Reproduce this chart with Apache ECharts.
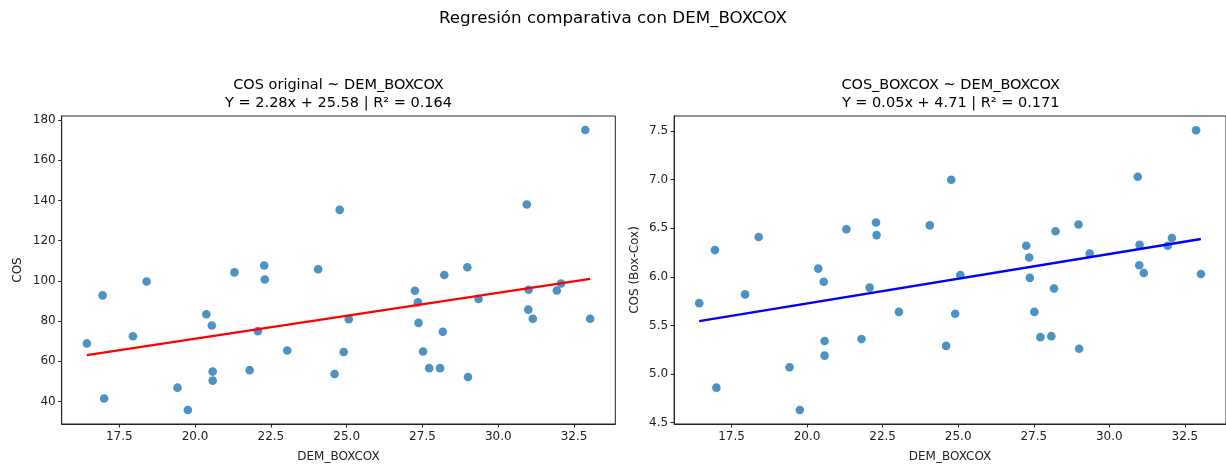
<!DOCTYPE html>
<html>
<head>
<meta charset="utf-8">
<script src="https://cdn.jsdelivr.net/npm/echarts@6/dist/echarts.min.js"></script>
<style>
html,body{margin:0;padding:0;background:#fff;}
#chart{width:1226px;height:468px;}
</style>
</head>
<body>
<div id="chart"></div>
<script>
// ---- data ----
const demBoxcox = [16.43, 16.95, 17.00, 17.95, 18.40, 19.42, 19.76, 20.37, 20.55, 20.58, 20.58,
  21.30, 21.80, 22.07, 22.28, 22.30, 23.04, 24.06, 24.60, 24.77, 24.90, 25.07, 27.25, 27.35,
  27.37, 27.52, 27.72, 28.08, 28.17, 28.22, 28.98, 29.00, 29.35, 30.94, 31.00, 30.99, 31.14,
  31.93, 32.07, 32.87, 33.03];
const cosOriginal = [68.9, 92.8, 41.5, 72.5, 99.7, 46.9, 35.8, 83.4, 77.8, 54.9, 50.4,
  104.2, 55.6, 75.0, 107.6, 100.7, 65.4, 105.8, 53.7, 135.3, 64.6, 80.9, 95.1, 89.3,
  79.1, 64.9, 56.6, 56.6, 74.7, 102.9, 106.8, 52.2, 91.0, 138.0, 95.6, 85.7, 81.2,
  95.2, 98.7, 175.0, 81.2];
const cosBoxcox = [5.73, 6.276, 4.86, 5.82, 6.41, 5.07, 4.63, 6.085, 5.95, 5.34, 5.19,
  6.49, 5.36, 5.89, 6.56, 6.43, 5.64, 6.53, 5.29, 7.00, 5.62, 6.02, 6.32, 6.20,
  5.99, 5.64, 5.38, 5.39, 5.88, 6.47, 6.54, 5.26, 6.24, 7.03, 6.33, 6.12, 6.04,
  6.32, 6.40, 7.51, 6.03];
// regression line endpoints (x at data min / max)
const lineX = [16.43, 33.03];
const lineCos = [63.05, 101.0];
const lineBox = [5.545, 6.39];
// tick labels
const xTicks = [17.5, 20.0, 22.5, 25.0, 27.5, 30.0, 32.5];
const yTicksCos = [40, 60, 80, 100, 120, 140, 160, 180];
const yTicksBox = [4.5, 5.0, 5.5, 6.0, 6.5, 7.0, 7.5];
// texts
const supTitle = 'Regresión comparativa con DEM_BOXCOX';
const titleLeft = ['COS original ~ DEM_BOXCOX', 'Y = 2.28x + 25.58 | R² = 0.164'];
const titleRight = ['COS_BOXCOX ~ DEM_BOXCOX', 'Y = 0.05x + 4.71 | R² = 0.171'];
const xName = 'DEM_BOXCOX';
const yNameLeft = 'COS';
const yNameRight = 'COS (Box-Cox)';

const FONT = 'DejaVu Sans';
const INK = '#222';

const pts = (xs, ys) => xs.map((x, i) => [x, ys[i]]);

function xAxisFor(gi) {
  return {
    type: 'value', gridIndex: gi, min: 15.6, max: 33.86,
    name: xName, nameLocation: 'middle', nameGap: 27,
    nameTextStyle: {fontFamily: FONT, fontSize: 12, color: INK},
    axisLine: {show: true, lineStyle: {color: INK, width: 1}},
    axisTick: {show: true, inside: false, length: 3.5, lineStyle: {color: INK, width: 1}, customValues: xTicks},
    axisLabel: {show: true, margin: 7, fontFamily: FONT, fontSize: 12, color: INK,
      customValues: xTicks, formatter: v => Number(v).toFixed(1)},
    splitLine: {show: false}
  };
}
function yAxisFor(gi, min, max, ticks, fmt, name, gap) {
  return {
    type: 'value', gridIndex: gi, min: min, max: max,
    name: name, nameLocation: 'middle', nameGap: gap, nameRotate: 90,
    nameTextStyle: {fontFamily: FONT, fontSize: 12, color: INK},
    axisLine: {show: true, lineStyle: {color: INK, width: 1}},
    axisTick: {show: true, inside: false, length: 3.5, lineStyle: {color: INK, width: 1}, customValues: ticks},
    axisLabel: {show: true, margin: 6, fontFamily: FONT, fontSize: 12, color: INK,
      customValues: ticks, formatter: fmt},
    splitLine: {show: false}
  };
}

const chart = echarts.init(document.getElementById('chart'), null, {renderer: 'canvas'});
const txt = (s, x, y, size) => ({
  type: 'text', x: x, y: y,
  style: {text: s, fontFamily: FONT, fontSize: size, fill: '#000', align: 'center', verticalAlign: 'middle'}
});
chart.setOption({
  animation: false,
  backgroundColor: '#fff',
  graphic: [
    txt(supTitle, 613, 18.5, 16.7),
    txt(titleLeft[0], 338.5, 85, 14.5),
    txt(titleLeft[1], 338.5, 103.3, 14.5),
    txt(titleRight[0], 950.7, 85, 14.5),
    txt(titleRight[1], 950.7, 103.3, 14.5)
  ],
  grid: [
    {left: 61.7, top: 116, width: 553.6, height: 309.3, show: true, borderColor: INK, borderWidth: 1, backgroundColor: 'transparent'},
    {left: 674.1, top: 116, width: 553.3, height: 309.3, show: true, borderColor: INK, borderWidth: 1, backgroundColor: 'transparent'}
  ],
  xAxis: [xAxisFor(0), xAxisFor(1)],
  yAxis: [
    yAxisFor(0, 28.84, 181.96, yTicksCos, v => String(Math.round(v)), yNameLeft, 38),
    yAxisFor(1, 4.486, 7.656, yTicksBox, v => Number(v).toFixed(1), yNameRight, 33)
  ],
  series: [
    {type: 'scatter', xAxisIndex: 0, yAxisIndex: 0, data: pts(demBoxcox, cosOriginal),
      symbolSize: 8.6, itemStyle: {color: '#1f77b4', opacity: 0.8}, z: 2},
    {type: 'line', xAxisIndex: 0, yAxisIndex: 0, data: pts(lineX, lineCos), showSymbol: false, symbol: 'none',
      lineStyle: {color: '#ff0000', width: 2.4}, z: 3},
    {type: 'scatter', xAxisIndex: 1, yAxisIndex: 1, data: pts(demBoxcox, cosBoxcox),
      symbolSize: 8.6, itemStyle: {color: '#1f77b4', opacity: 0.8}, z: 2},
    {type: 'line', xAxisIndex: 1, yAxisIndex: 1, data: pts(lineX, lineBox), showSymbol: false, symbol: 'none',
      lineStyle: {color: '#0000ff', width: 2.4}, z: 3}
  ]
});
</script>
</body>
</html>
